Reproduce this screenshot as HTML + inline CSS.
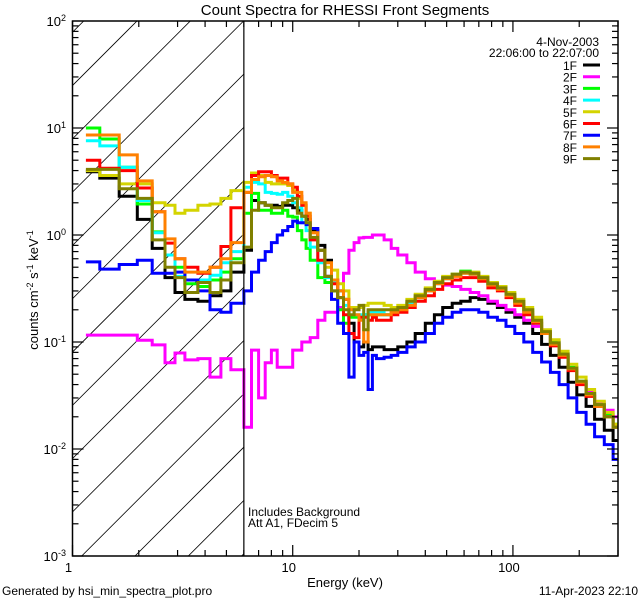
<!DOCTYPE html>
<html><head><meta charset="utf-8"><style>
html,body{margin:0;padding:0;background:#fff;width:640px;height:600px;overflow:hidden;}
svg{display:block;font-family:"Liberation Sans",sans-serif;overflow:hidden;}
</style></head><body>
<svg id="chart" width="640" height="600" viewBox="0 0 640 600" xmlns="http://www.w3.org/2000/svg">
<rect x="0" y="0" width="640" height="600" fill="#fff"/>
<defs><clipPath id="plotclip"><rect x="72.5" y="21" width="545.5" height="535"/></clipPath>
<clipPath id="hatchclip"><rect x="72.5" y="21" width="171.3" height="535"/></clipPath></defs>
<text x="345" y="15" font-size="15" text-anchor="middle">Count Spectra for RHESSI Front Segments</text>
<g id="hatch" clip-path="url(#hatchclip)"></g>
<g id="series" clip-path="url(#plotclip)"></g>
<g id="axes"></g>
<text transform="translate(38,290) rotate(-90)" font-size="13" text-anchor="middle">counts cm<tspan baseline-shift="super" font-size="9">-2</tspan> s<tspan baseline-shift="super" font-size="9">-1</tspan> keV<tspan baseline-shift="super" font-size="9">-1</tspan></text>
<text x="345" y="587" font-size="13" text-anchor="middle">Energy (keV)</text>
<text x="2" y="595" font-size="12">Generated by hsi_min_spectra_plot.pro</text>
<text x="638" y="595" font-size="12" text-anchor="end">11-Apr-2023 22:10</text>
<text x="248" y="516" font-size="12">Includes Background</text>
<text x="248" y="527" font-size="12">Att A1, FDecim 5</text>
<text x="599" y="46" font-size="12" text-anchor="end">4-Nov-2003</text>
<text x="599" y="57" font-size="12" text-anchor="end">22:06:00 to 22:07:00</text>
<g id="legend"></g>
</svg>
<script>
const edges = [1.15,1.33,1.63,1.97,2.3,2.63,2.92,3.24,3.71,4.21,4.72,5.24,6.0,
 6.5,7,7.5,8,8.5,9,9.5,10,10.5,11,11.5,12,13,14,15,16,17,18,19,20,21,22,23,24,
 26,28,30,33,36,40,44,48,53,58,64,70,77,85,93,102,112,123,135,148,162,178,195,215,235,260,285,300];
const seriesNames = ["1F","2F","3F","4F","5F","6F","7F","8F","9F"];
const seriesColors = ["#000000","#ff00ff","#00ff00","#00ffff","#d4d400","#ff0000","#0000ff","#ff8000","#808000"];
const s1F = [3.9,3.4,2.3,1.4,0.75,0.4,0.29,0.25,0.24,0.27,0.3,0.45,
 0.72,2.1,2.0,1.9,1.9,1.85,1.9,1.9,1.8,1.7,1.5,1.4,1.1,0.8,0.58,0.38,0.3,0.25,0.15,0.1,0.09,0.1,0.085,0.09,
 0.09,0.085,0.085,0.09,0.1,0.12,0.15,0.18,0.21,0.23,0.24,0.26,0.25,0.23,0.21,0.19,0.17,0.15,0.12,0.095,0.075,0.058,0.042,0.032,0.025,0.019,0.015,0.012];
const s2F = [0.116,0.116,0.116,0.104,0.094,0.064,0.079,0.068,0.07,0.047,0.07,0.055,
 0.016,0.084,0.03,0.064,0.084,0.058,0.058,0.058,0.084,0.084,0.1,0.1,0.11,0.16,0.19,0.19,0.21,0.44,0.72,0.85,0.94,0.95,0.95,1.0,
 1.0,0.9,0.75,0.65,0.55,0.45,0.39,0.36,0.34,0.33,0.31,0.29,0.27,0.24,0.22,0.2,0.18,0.16,0.14,0.12,0.1,0.075,0.055,0.042,0.034,0.027,0.023,0.02];
const s3F = [10,7.9,4.3,1.95,1.07,0.65,0.5,0.35,0.33,0.38,0.45,0.6,
 1.6,2.45,1.7,1.7,1.6,1.6,1.7,1.5,1.47,1.1,0.9,0.75,0.58,0.4,0.36,0.3,0.2,0.15,0.17,0.17,0.17,0.18,0.18,0.18,
 0.18,0.18,0.19,0.2,0.23,0.26,0.31,0.36,0.4,0.43,0.46,0.44,0.4,0.35,0.32,0.28,0.24,0.2,0.16,0.125,0.1,0.078,0.058,0.043,0.033,0.026,0.021,0.017];
const s4F = [7.6,6.8,4.3,2.1,1.05,0.65,0.41,0.38,0.38,0.42,0.55,0.7,
 2.8,3.1,3.0,2.5,2.45,2.4,2.5,2.3,2.0,1.8,1.3,1.1,0.77,0.55,0.4,0.36,0.3,0.22,0.2,0.18,0.18,0.18,0.19,0.19,
 0.19,0.18,0.19,0.21,0.23,0.27,0.3,0.35,0.39,0.42,0.44,0.43,0.39,0.34,0.31,0.27,0.23,0.19,0.15,0.12,0.095,0.074,0.055,0.041,0.032,0.025,0.02,0.016];
const s5F = [4.0,3.6,3.0,3.0,2.0,1.9,1.6,1.7,1.9,1.95,2.2,2.6,
 3.1,3.8,3.6,3.1,3.0,3.0,3.0,2.9,2.6,2.2,1.9,1.6,1.05,0.72,0.5,0.47,0.35,0.3,0.21,0.21,0.21,0.22,0.23,0.23,
 0.23,0.22,0.21,0.22,0.25,0.28,0.32,0.37,0.41,0.43,0.45,0.45,0.41,0.36,0.33,0.29,0.25,0.21,0.17,0.13,0.105,0.082,0.062,0.047,0.036,0.028,0.022,0.017];
const s6F = [5.0,4.2,4.0,2.75,1.65,0.84,0.6,0.5,0.44,0.5,0.78,1.8,
 2.5,3.6,3.9,3.9,3.6,3.4,3.4,3.0,2.8,2.3,1.9,1.5,0.9,0.58,0.41,0.35,0.26,0.18,0.12,0.11,0.17,0.17,0.16,0.17,
 0.16,0.16,0.18,0.19,0.21,0.24,0.27,0.31,0.35,0.38,0.4,0.4,0.37,0.32,0.3,0.26,0.22,0.18,0.15,0.12,0.092,0.072,0.054,0.04,0.031,0.025,0.02,0.016];
const s7F = [0.56,0.48,0.53,0.58,0.44,0.44,0.45,0.38,0.3,0.2,0.19,0.23,
 0.3,0.45,0.58,0.7,0.85,1.0,1.1,1.2,1.35,1.3,1.3,1.25,1.15,0.72,0.41,0.25,0.15,0.12,0.047,0.1,0.075,0.08,0.036,0.075,
 0.07,0.072,0.075,0.08,0.09,0.1,0.12,0.15,0.17,0.19,0.2,0.2,0.19,0.17,0.16,0.14,0.12,0.1,0.08,0.065,0.052,0.04,0.03,0.022,0.017,0.013,0.011,0.008];
const s8F = [8.6,8.6,5.6,3.2,1.65,0.92,0.6,0.45,0.45,0.5,0.6,0.85,
 2.5,3.3,3.5,3.6,3.5,3.2,3.1,3.0,2.5,2.5,2.0,1.6,1.05,0.72,0.55,0.38,0.3,0.25,0.2,0.18,0.16,0.1,0.18,0.18,
 0.18,0.18,0.19,0.2,0.22,0.26,0.3,0.35,0.39,0.41,0.44,0.43,0.39,0.34,0.31,0.27,0.23,0.19,0.155,0.12,0.095,0.075,0.056,0.042,0.032,0.025,0.02,0.016];
const s9F = [4.1,4.1,2.7,2.2,0.9,0.5,0.4,0.29,0.36,0.29,0.38,0.55,
 0.77,1.7,2.0,1.9,1.8,1.8,2.0,2.1,2.2,1.6,1.5,1.3,0.95,0.72,0.41,0.3,0.26,0.2,0.18,0.2,0.22,0.13,0.2,0.2,
 0.2,0.2,0.2,0.21,0.24,0.27,0.31,0.36,0.4,0.43,0.45,0.44,0.4,0.35,0.32,0.28,0.24,0.2,0.16,0.125,0.098,0.077,0.057,0.043,0.033,0.026,0.02,0.016];
const seriesValues = [s1F,s2F,s3F,s4F,s5F,s6F,s7F,s8F,s9F];
const xTickLabels = ["1","10","100"];
const yTickExps = ["2","1","0","-1","-2","-3"];

const X0=72.5, X1=618, Y0=21, Y1=556;
const XMIN=1, XMAX=300, YMIN=1e-3, YMAX=100;
const lx=e=>X0+(X1-X0)*(Math.log10(e)-Math.log10(XMIN))/(Math.log10(XMAX)-Math.log10(XMIN));
const ly=v=>Y1-(Y1-Y0)*(Math.log10(v)-Math.log10(YMIN))/(Math.log10(YMAX)-Math.log10(YMIN));
const NS="http://www.w3.org/2000/svg";
function mk(tag,attrs,parent){const el=document.createElementNS(NS,tag);for(const k in attrs)el.setAttribute(k,attrs[k]);parent.appendChild(el);return el;}

// hatch
const hatch=document.getElementById('hatch');
for(let k=-3;k<14;k++){
  const xt=137+53.3*k;
  const l=mk('line',{x1:xt+150,y1:Y0-150,x2:xt-540,y2:Y0+540,stroke:'#000','stroke-width':0.8},hatch);
  
  
}

// series
const sg=document.getElementById('series');
seriesValues.forEach((vals,si)=>{
  let d='';
  for(let i=0;i<vals.length;i++){
    const xa=lx(edges[i]).toFixed(1), xb=lx(edges[i+1]).toFixed(1), y=ly(vals[i]).toFixed(1);
    d+=(i===0?'M':'L')+xa+','+y+'L'+xb+','+y;
  }
  const p=mk('path',{d:d,fill:'none',stroke:seriesColors[si],'stroke-width':3,'stroke-linejoin':'miter'},sg);
  
  
});

// axes
const ax=document.getElementById('axes');
const frame=mk('rect',{x:X0,y:Y0,width:X1-X0,height:Y1-Y0,fill:'none',stroke:'#000','stroke-width':1.5},ax);


const vline=mk('line',{x1:lx(6),y1:Y0,x2:lx(6),y2:Y1,stroke:'#000','stroke-width':1.2},ax);


// x ticks
for(let dec=0;dec<3;dec++){
  for(let m=1;m<10;m++){
    const e=Math.pow(10,dec)*m; if(e>XMAX) break;
    const x=lx(e), len=(m===1)?11:6;
    mk('line',{x1:x,y1:Y1,x2:x,y2:Y1-len,stroke:'#000','stroke-width':1.2},ax);
    mk('line',{x1:x,y1:Y0,x2:x,y2:Y0+len,stroke:'#000','stroke-width':1.2},ax);
  }
}
xTickLabels.forEach(lbl=>{
  const t=mk('text',{x:lx(Number(lbl))-4,y:572,'font-size':13,'text-anchor':'middle'},ax);
  t.textContent=lbl;
  
  
});
// y ticks
for(let p=-3;p<2;p++){
  for(let m=1;m<10;m++){
    const v=Math.pow(10,p)*m; const y=ly(v), len=(m===1)?11:6;
    mk('line',{x1:X0,y1:y,x2:X0+len,y2:y,stroke:'#000','stroke-width':1.2},ax);
    mk('line',{x1:X1,y1:y,x2:X1-len,y2:y,stroke:'#000','stroke-width':1.2},ax);
  }
}
yTickExps.forEach(ex=>{
  const y=ly(Math.pow(10,Number(ex)));
  const t=mk('text',{x:66,y:y+5,'font-size':13,'text-anchor':'end'},ax);
  
  
  const a=mk('tspan',{},t); a.textContent='10';
  const b=mk('tspan',{'baseline-shift':'super','font-size':9},t); b.textContent=ex;
});
// legend
const lg=document.getElementById('legend');
seriesNames.forEach((n,i)=>{
  const y=65+11.7*i;
  const t=mk('text',{x:577,y:y+5,'font-size':12,'text-anchor':'end'},lg);
  t.textContent=n;
  
  
  const l=mk('line',{x1:583,y1:y,x2:600,y2:y,stroke:seriesColors[i],'stroke-width':3},lg);
  
  
});
</script>
</body></html>
